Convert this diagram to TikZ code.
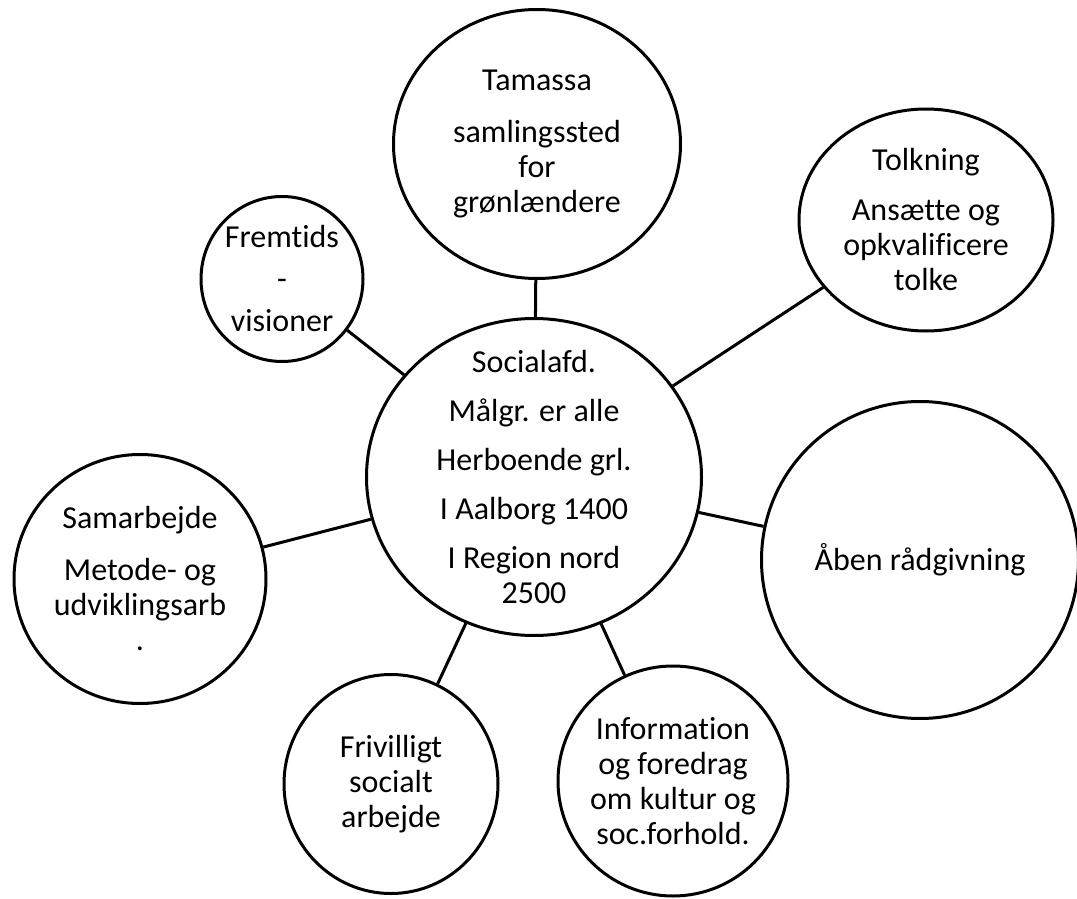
\documentclass[tikz,border=0pt]{standalone}
\usepackage{fontspec}
\setmainfont[Ligatures=NoCommon]{Carlito}
\usepackage{tikz}
\usetikzlibrary{shapes.geometric}
\definecolor{Ink}{HTML}{000000}
\definecolor{Paper}{HTML}{FFFFFF}
\tikzset{
bubble/.style= {ellipse, draw=Ink, line width=3pt, inner sep=0pt, fill=Paper},
bubbletext/.style= {align=center, inner sep=0pt, text=Ink, font=\fontsize{32}{35}\selectfont},
link/.style= {draw=Ink, line width=3pt}
}

\begin{document}
\begin{tikzpicture}[x=1pt, y=-1pt]
    \fill[Paper] (0,0) rectangle (1077,899);
    \useasboundingbox (0,0) rectangle (1077,899);

    \node[bubble,minimum width=335pt,minimum height=317pt] (hub) at (534,477) {};
    \node[bubble,minimum width=287pt,minimum height=269pt] (tamassa) at (537,144) {};
    \node[bubble,minimum width=254pt,minimum height=222pt] (tolkning) at (926,220) {};
    \node[bubble,minimum width=162pt,minimum height=165pt] (fremtid) at (282,279) {};
    \node[bubble,minimum width=252pt,minimum height=249pt] (samarb) at (140,579) {};
    \node[bubble,minimum width=214pt,minimum height=219pt] (frivil) at (391,784) {};
    \node[bubble,minimum width=230pt,minimum height=230pt] (info) at (673,781) {};
    \node[bubble,minimum width=317pt,minimum height=317pt] (raad) at (920,560) {};

    \draw[link] (hub) -- (tamassa);
    \draw[link] (hub) -- (tolkning);
    \draw[link] (hub) -- (fremtid);
    \draw[link] (hub) -- (samarb);
    \draw[link] (hub) -- (frivil);
    \draw[link] (hub) -- (info);
    \draw[link] (hub) -- (raad);

    \node[bubbletext] (hubtext) at (hub) {Socialafd.\\[14pt] Målgr. er alle\\[14pt] Herboende grl.\\[14pt] I Aalborg 1400\\[14pt] I Region nord\\2500};
    \node[bubbletext] (tamassatext) at (tamassa) {Tamassa\\[17pt] samlingssted\\for\\grønlændere};
    \node[bubbletext] (tolkningtext) at (tolkning) {Tolkning\\[15pt] Ansætte og\\opkvalificere\\tolke};
    \node[bubbletext] (fremtidtext) at (fremtid) {Fremtids\\[7pt] -\\[7pt] visioner};
    \node[bubbletext] (samarbtext) at (samarb) {Samarbejde\\[17pt] Metode- og\\udviklingsarb\\.};
    \node[bubbletext] (friviltext) at (frivil) {Frivilligt\\socialt\\arbejde};
    \node[bubbletext] (infotext) at (info) {Information\\og foredrag\\om kultur og\\soc.forhold.};
    \node[bubbletext] (raadtext) at (raad) {Åben rådgivning};
\end{tikzpicture}
\end{document}
